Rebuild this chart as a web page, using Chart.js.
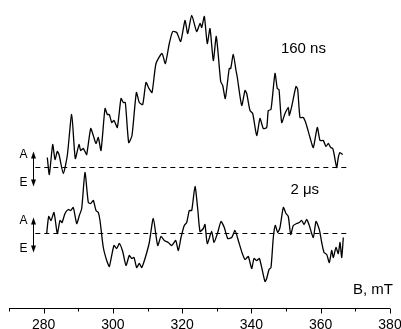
<!DOCTYPE html>
<html>
<head>
<meta charset="utf-8">
<script src="https://cdn.jsdelivr.net/npm/chart.js@4.4.1/dist/chart.umd.min.js"></script>
<style>
  html, body { margin: 0; padding: 0; background: #fff; }
  #wrap { width: 401px; height: 329px; }
</style>
</head>
<body>
<div id="wrap"><canvas id="epr"></canvas></div>
<script>
// magnetic field, mT
const fieldMin = 270;
const fieldMax = 380;
const tickLabels = [280, 300, 320, 340, 360, 380];

// 160 ns trace (signal relative to its baseline)
const field160 = [281.06, 281.64, 282.62, 283.28, 283.95, 284.44, 285.68, 286.83, 288.10, 289.14,
  290.21, 290.70, 291.45, 291.94, 292.43, 293.59, 294.34, 295.12, 295.78, 296.56,
  297.72, 298.38, 298.96, 299.65, 300.32, 301.27, 302.34, 303.00, 303.58, 304.56,
  305.51, 306.78, 307.62, 308.60, 309.55, 310.42, 311.29, 312.44, 314.17, 315.13,
  316.28, 317.26, 318.42, 319.57, 320.82, 321.59, 322.75, 324.19, 325.15, 325.64,
  326.39, 327.25, 328.03, 328.99, 329.85, 331.12, 331.70, 332.45, 333.58, 334.01,
  334.76, 335.54, 335.92, 337.19, 338.14, 338.63, 339.58, 340.36, 341.52, 342.47,
  343.42, 344.40, 344.86, 345.64, 346.80, 347.46, 347.95, 348.73, 349.69, 350.64,
  350.93, 351.62, 352.86, 353.35, 354.02, 354.97, 355.75, 356.90, 357.86, 359.01,
  359.79, 360.74, 361.52, 362.19, 362.88, 363.46, 363.83, 364.61, 365.07, 365.57, 366.35];
const signal160 = [10, -7, 23, 8, 16, 13, -6, 12, 53, 9,
  23, 17, 19, 16, 13, 39, 32, 24, 30, 17,
  59, 53, 53, 45, 47, 40, 69, 65, 65, 25,
  32, 75, 65, 63, 85, 79, 75, 104, 114, 104,
  124, 136, 135, 126, 147, 134, 152, 136, 144, 140,
  151, 124, 139, 107, 131, 86, 82, 69, 99, 99,
  113, 97, 90, 62, 77, 74, 57, 54, 32, 49,
  39, 40, 57, 58, 94, 79, 78, 45, 54, 60,
  52, 61, 81, 78, 50, 50, 44, 30, 20, 40,
  27, 27, 21, 24, 20, 19, 14, 0, 10, 15, 13];

// 2 us trace
const field2us = [280.88, 281.46, 282.13, 282.99, 283.95, 284.72, 285.30, 286.17, 287.12, 287.81,
  288.56, 289.55, 290.30, 290.99, 291.94, 292.90, 293.59, 294.34, 295.12, 295.78,
  296.27, 297.23, 298.21, 298.96, 299.65, 300.32, 301.09, 301.85, 302.83, 303.78,
  304.73, 305.43, 306.09, 306.87, 307.62, 308.31, 309.27, 310.51, 311.66, 312.93,
  313.88, 314.84, 315.99, 316.98, 318.13, 318.88, 319.66, 320.61, 321.31, 322.06,
  322.75, 323.70, 324.48, 325.15, 326.10, 326.59, 327.25, 328.52, 329.19, 330.26,
  331.21, 332.16, 333.14, 334.30, 335.25, 336.20, 337.36, 338.14, 339.09, 340.07,
  340.74, 341.52, 342.27, 342.96, 343.91, 344.40, 345.07, 345.64, 346.31, 346.89,
  347.58, 348.24, 349.20, 349.98, 350.64, 351.33, 352.08, 353.06, 353.81, 354.51,
  355.17, 355.95, 356.70, 357.86, 358.64, 359.59, 360.28, 360.95, 361.73, 362.48,
  363.17, 363.64, 364.41, 365.07, 365.57, 366.06, 366.52];
const signal2us = [0, 17, 13, 21, 0, 13, 11, 20, 24, 23,
  26, 10, 18, 25, 61, 31, 30, 33, 23, 21,
  13, -14, -27, -33, -22, -12, -15, -10, -18, -32,
  -22, -25, -24, -34, -30, -34, -25, -9, 15, -12,
  -3, -7, -9, -12, -7, -17, -4, 8, 11, 23,
  23, 47, 25, 2, 5, 9, -10, 2, -9, 1,
  12, 6, -5, -4, 3, -7, -20, -26, -23, -35,
  -25, -27, -25, -34, -48, -45, -36, -34, -4, 8,
  1, 6, 26, 20, 17, -1, 8, 10, 11, 13,
  9, 14, 8, -4, 12, 4, -9, -19, -21, -29,
  -17, -24, -14, -20, -9, -24, -4];

// vertical offsets of the two traces and extent of dashed baselines
const offset160 = 140.5;
const offset2us = 74.5;
const baseFrom = 277.6;
const baseTo = 367.9;

const FONT = '"Liberation Sans", Arial, sans-serif';

function toPoints(xs, ys, off) {
  return xs.map((x, i) => ({ x: x, y: ys[i] + off }));
}

function baseline(off) {
  return {
    data: [{ x: baseFrom, y: off }, { x: baseTo, y: off }],
    borderColor: '#000',
    borderWidth: 1,
    borderDash: [5, 4],
    pointRadius: 0
  };
}

// axis ticks, arrows and text labels
const decor = {
  id: 'decor',
  afterDraw(chart) {
    const ctx = chart.ctx;
    const xs = chart.scales.x;
    const ys = chart.scales.y;
    const area = chart.chartArea;
    ctx.save();
    ctx.strokeStyle = '#000';
    ctx.fillStyle = '#000';
    ctx.lineWidth = 1;

    // axis line + ticks
    const yAx = Math.round(area.bottom) + 0.5;
    ctx.beginPath();
    ctx.moveTo(xs.getPixelForValue(fieldMin), yAx);
    ctx.lineTo(xs.getPixelForValue(fieldMax), yAx);
    xs.ticks.forEach(t => {
      const px = Math.round(xs.getPixelForValue(t.value)) + 0.5;
      const len = tickLabels.includes(t.value) ? 5 : 3;
      ctx.moveTo(px, yAx);
      ctx.lineTo(px, yAx + len);
    });
    ctx.stroke();

    // A / E arrows
    const ax = Math.round(xs.getPixelForValue(276.9)) + 0.5;
    [offset160, offset2us].forEach(off => {
      const yTop = ys.getPixelForValue(off + 16);
      const yBot = ys.getPixelForValue(off - 19);
      ctx.beginPath();
      ctx.moveTo(ax, yTop + 4);
      ctx.lineTo(ax, yBot - 4);
      ctx.stroke();
      ctx.beginPath();
      ctx.moveTo(ax, yTop);
      ctx.lineTo(ax - 2.5, yTop + 7);
      ctx.lineTo(ax + 2.5, yTop + 7);
      ctx.closePath();
      ctx.fill();
      ctx.beginPath();
      ctx.moveTo(ax, yBot);
      ctx.lineTo(ax - 2.5, yBot - 7);
      ctx.lineTo(ax + 2.5, yBot - 7);
      ctx.closePath();
      ctx.fill();

      ctx.font = '12px ' + FONT;
      ctx.textAlign = 'center';
      ctx.textBaseline = 'middle';
      ctx.fillText('A', ax - 10, ys.getPixelForValue(off + 13));
      ctx.fillText('E', ax - 10, ys.getPixelForValue(off - 15));
    });

    // trace labels
    ctx.font = '15px ' + FONT;
    ctx.textAlign = 'center';
    ctx.textBaseline = 'middle';
    ctx.fillText('160 ns', xs.getPixelForValue(355.0), ys.getPixelForValue(259));
    ctx.fillText('2 \u03bcs', xs.getPixelForValue(355.4), ys.getPixelForValue(118));

    ctx.fillText('B, mT', xs.getPixelForValue(375.1), ys.getPixelForValue(18));
    ctx.restore();
  }
};

new Chart(document.getElementById('epr'), {
  type: 'line',
  data: {
    datasets: [
      {
        data: toPoints(field160, signal160, offset160),
        borderColor: '#000',
        borderWidth: 1.3,
        pointRadius: 0,
        tension: 0.2
      },
      {
        data: toPoints(field2us, signal2us, offset2us),
        borderColor: '#000',
        borderWidth: 1.3,
        pointRadius: 0,
        tension: 0.2
      },
      baseline(offset160),
      baseline(offset2us)
    ]
  },
  options: {
    responsive: true,
    maintainAspectRatio: false,
    animation: false,
    events: [],
    layout: { padding: { left: 9, right: 11, top: 0, bottom: 0 } },
    plugins: {
      legend: { display: false },
      tooltip: { enabled: false }
    },
    scales: {
      x: {
        type: 'linear',
        min: fieldMin,
        max: fieldMax,
        afterFit: s => {
          s.height = 21;
          // let the last label hang over the edge like the original
          s.paddingLeft = 0;
          s.paddingRight = 0;
        },
        grid: { display: false, drawTicks: false },
        border: { display: false },
        ticks: {
          stepSize: 10,
          autoSkip: false,
          maxRotation: 0,
          padding: 9,
          color: '#000',
          font: { family: FONT, size: 14 },
          callback: v => tickLabels.includes(v) ? v : ''
        }
      },
      y: {
        display: false,
        min: 0,
        max: 308
      }
    }
  },
  plugins: [decor]
});
</script>
</body>
</html>
